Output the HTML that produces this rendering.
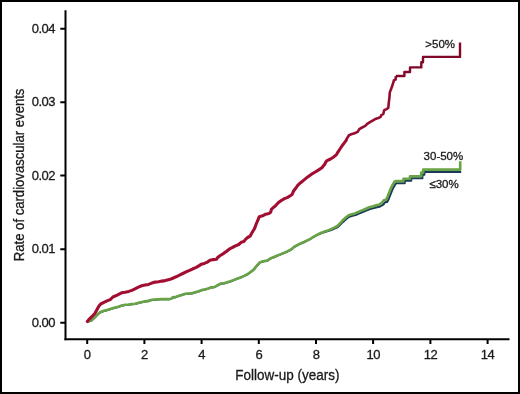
<!DOCTYPE html>
<html><head><meta charset="utf-8">
<style>
html,body{margin:0;padding:0;background:#fff;}
body{width:520px;height:394px;overflow:hidden;position:relative;font-family:"Liberation Sans",sans-serif;}
svg{position:absolute;left:0;top:0;will-change:transform;}
svg text{font-family:"Liberation Sans",sans-serif;fill:#1a1a1a;stroke:#1a1a1a;stroke-width:0.3px;}
</style></head><body>
<svg width="520" height="394" viewBox="0 0 520 394">
<rect x="1" y="1" width="518" height="392" fill="#fff" stroke="#000" stroke-width="2"/>
<g stroke="#000" stroke-width="2" fill="none">
<path d="M65.5 10.3V340.2"/>
<path d="M64.5 339.2H509.5"/>
<path d="M60.3 28.8H65M60.3 102.2H65M60.3 175.6H65M60.3 249.2H65M60.3 322.7H65"/>
<path d="M87.2 339.5V344M144.4 339.5V344M201.6 339.5V344M258.8 339.5V344M316 339.5V344M373.1 339.5V344M430.4 339.5V344M487.6 339.5V344"/>
</g>
<g font-size="13" letter-spacing="-0.5" text-anchor="end">
<text x="55" y="32.8">0.04</text>
<text x="55" y="106.2">0.03</text>
<text x="55" y="179.6">0.02</text>
<text x="55" y="253.2">0.01</text>
<text x="55" y="326.7">0.00</text>
</g>
<g font-size="13" letter-spacing="-0.5" text-anchor="middle">
<text x="87.2" y="359.2">0</text>
<text x="144.4" y="359.2">2</text>
<text x="201.6" y="359.2">4</text>
<text x="258.8" y="359.2">6</text>
<text x="316" y="359.2">8</text>
<text x="373.2" y="359.2">10</text>
<text x="430.4" y="359.2">12</text>
<text x="487.6" y="359.2">14</text>
</g>
<text font-size="14.5" text-anchor="middle" transform="translate(287.3 379.5) scale(0.93 1)">Follow-up (years)</text>
<text font-size="14.5" text-anchor="middle" transform="translate(24 174.9) rotate(-90) scale(0.905 1)">Rate of cardiovascular events</text>
<g font-size="11.5">
<text x="425.3" y="48.2">&gt;50%</text>
<text x="423.6" y="160">30-50%</text>
<text x="429.4" y="187.7">≤30%</text>
</g>
<polyline fill="none" stroke="#1b3a5a" stroke-width="2.1" stroke-linejoin="round" points="87.3,321.7 91.2,320.8 94.3,317.9 97.5,314.7 100.0,312.5 103.2,311.2 107.0,310.2 110.2,309.3 113.4,308.3 117.2,307.3 121.7,305.7 125.1,305.0 128.5,304.7 131.8,304.3 135.2,304.0 138.6,303.0 141.9,302.3 145.3,301.5 148.5,301.1 151.7,300.0 155.1,299.7 158.5,299.5 161.8,299.3 168.6,299.3 171.2,299.0 172.6,297.6 175.3,297.3 178.5,296.1 181.7,295.1 185.1,294.0 188.5,293.7 191.8,293.4 195.2,292.4 198.6,291.4 201.9,290.3 205.2,289.5 208.4,288.6 211.3,287.5 214.5,287.2 217.7,285.3 220.9,283.7 224.0,283.4 227.2,282.5 230.4,281.5 233.5,280.3 236.4,279.1 240.2,277.8 244.0,276.1 247.8,274.2 250.9,271.9 253.9,269.6 256.2,266.6 258.5,264.0 260.5,262.2 264.3,261.3 267.5,260.6 270.7,258.4 273.9,257.2 277.0,255.9 280.2,254.6 283.4,253.3 286.7,251.9 291.3,249.5 294.5,246.8 297.7,245.0 300.9,243.4 304.0,242.2 307.2,240.6 310.4,239.0 313.4,237.0 318.3,234.4 321.6,233.1 324.8,231.9 328.1,231.0 331.2,230.0 334.5,228.5 337.8,227.1 339.9,225.0 342.8,222.1 346.0,219.2 349.3,216.7 352.5,215.7 355.7,215.0 358.9,213.6 362.2,212.3 365.6,210.9 370.1,209.1 374.1,208.1 377.9,206.9 379.8,206.7 383.3,204.7 384.9,202.3 387.3,201.9 389.0,198.2 390.6,194.2 392.2,190.1 393.8,186.9 395.5,184.0 396.7,183.2 404.7,183.2 404.7,180.8 411.2,180.8 411.2,178.3 422.4,178.3 422.4,174.7 424.4,174.7 424.4,171.9 461.2,171.9"/>
<polyline fill="none" stroke="#68a446" stroke-width="2.6" stroke-linejoin="round" points="87.3,321.5 91.2,320.6 94.3,317.7 97.5,314.5 100.0,312.3 103.2,311.0 107.0,310.0 110.2,309.1 113.4,308.1 117.2,307.1 121.7,305.5 125.1,304.8 128.5,304.5 131.8,304.1 135.2,303.8 138.6,302.8 141.9,302.1 145.3,301.3 148.5,300.9 151.7,299.8 155.1,299.5 158.5,299.3 161.8,299.1 168.6,299.1 171.2,298.8 172.6,297.4 175.3,297.1 178.5,295.9 181.7,294.9 185.1,293.8 188.5,293.5 191.8,293.2 195.2,292.2 198.6,291.2 201.9,290.1 205.2,289.3 208.4,288.4 211.3,287.3 214.5,287.0 217.7,285.1 220.9,283.5 224.0,283.2 227.2,282.3 230.4,281.3 233.5,280.1 236.4,278.9 240.2,277.6 244.0,275.9 247.8,274.0 250.9,271.7 253.9,269.4 256.2,266.4 258.5,263.8 260.5,262.0 264.3,261.1 267.5,260.4 270.7,258.2 273.9,257.0 277.0,255.7 280.2,254.4 283.4,253.1 286.7,251.7 291.3,249.3 294.5,246.6 297.7,244.8 300.9,243.2 304.0,242.0 307.2,240.4 310.4,238.8 313.4,236.8 318.3,234.2 321.5,232.7 324.7,231.4 327.9,230.4 331.0,229.2 334.2,227.6 337.4,226.0 339.5,223.8 342.3,220.8 345.5,217.8 348.7,215.2 351.9,214.2 355.0,213.4 358.2,212.0 361.4,210.6 364.8,209.2 369.2,207.3 373.1,206.2 376.9,205.0 378.8,204.8 382.1,202.6 383.7,200.2 386.1,199.8 387.8,196.1 389.4,192.1 391.0,188.0 392.6,184.8 394.3,181.9 395.5,181.1 403.5,181.1 403.5,178.7 410.0,178.7 410.0,176.2 421.2,176.2 421.2,172.6 423.2,172.6 423.2,169.6 460.2,169.6 460.2,161.3"/>
<polyline fill="none" stroke="#a20e31" stroke-width="3.1" stroke-linejoin="round" stroke-linecap="round" points="87.3,321.5 88.6,319.9 91.8,316.7 95.0,313.2 96.9,309.7 98.8,306.2 100.7,304.0 103.9,302.4 107.0,300.9 110.2,299.6 112.9,297.0 117.2,295.1 121.6,292.8 125.1,292.2 128.8,291.4 131.8,290.4 135.0,288.8 138.4,287.1 141.7,285.8 145.1,285.1 148.5,284.4 151.8,283.1 155.2,282.1 158.6,281.8 161.9,281.1 165.3,280.6 169.4,279.6 172.7,278.2 176.1,276.8 179.5,275.2 182.8,273.5 186.2,271.8 189.6,270.4 192.9,268.8 196.3,267.4 199.6,265.4 201.2,264.3 204.3,263.4 207.5,262.1 210.0,260.2 213.2,259.6 216.4,259.3 217.7,257.4 220.2,255.5 223.4,253.6 226.3,251.4 229.2,249.2 232.3,247.5 235.5,245.9 238.7,244.5 241.2,242.3 243.8,241.6 245.7,239.1 247.6,237.5 250.1,236.2 251.4,233.7 253.3,230.5 254.5,228.6 256.2,224.0 258.1,219.6 259.3,216.7 262.5,215.8 265.7,214.2 268.9,213.6 270.8,212.0 271.4,209.4 273.3,207.5 275.3,206.0 278.2,202.8 281.3,200.5 284.5,198.6 287.7,197.4 290.2,195.8 292.1,194.5 293.4,191.3 295.3,188.8 297.7,185.4 300.6,182.7 304.1,179.9 307.7,176.9 311.2,174.4 314.8,172.2 318.3,170.1 321.9,167.8 324.7,164.3 325.8,162.0 327.0,160.6 330.1,159.3 333.3,157.2 336.5,154.6 338.4,151.3 340.3,148.5 342.2,145.6 344.1,143.1 346.0,140.6"/>
<polyline fill="none" stroke="#960c30" stroke-width="2.6" stroke-linejoin="round" points="346.0,140.6 346.5,139.2 348.8,135.5 351.3,134.2 354.5,133.2 357.7,131.9 359.3,129.1 362.1,127.5 365.3,125.9 367.2,123.8 370.4,121.9 373.5,120.2 375.3,118.9 378.4,118.0 380.7,116.9 381.4,114.9 383.3,114.1 384.1,110.4 386.4,109.2 388.3,108.0 388.7,103.4 389.5,97.0 389.8,92.4 391.0,89.3 392.1,86.3 393.3,82.5 394.0,80.2 395.6,79.6 395.9,76.0"/>
<polyline fill="none" stroke="#800828" stroke-width="2.4" stroke-linejoin="round" points="395.9,76.0 404.4,76.0 404.4,72.0 410.0,72.0 410.0,67.4 421.3,67.4 421.3,62.2 423.0,62.2 423.0,56.9 460.0,56.9 460.0,42.5"/>
</svg>
</body></html>
